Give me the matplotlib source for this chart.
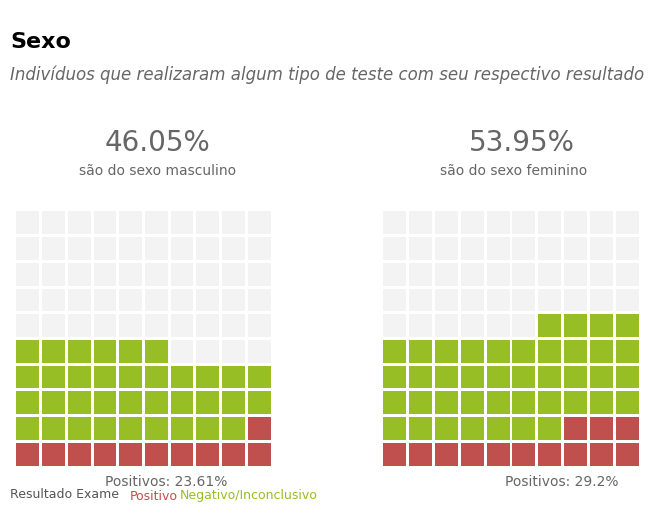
import matplotlib
matplotlib.use("Agg")
import matplotlib.pyplot as plt
from matplotlib.patches import Rectangle

# ---- data ----
categories = ["masculino", "feminino"]
pct_sexo = [46.05, 53.95]
pct_positivos = [23.61, 29.2]
cells_positivo = [11, 13]
cells_negativo = [35, 41]
legend_labels = ["Positivo", "Negativo/Inconclusivo"]

RED = "#C0504D"
GREEN = "#97BE25"
EMPTY = "#F3F3F3"
GREY_TXT = "#666666"

W, H = 654, 530
fig = plt.figure(figsize=(W / 100, H / 100), dpi=100)
fig.patch.set_facecolor("white")


def px(x, y):
    return x / W, 1 - y / H


def ftext(x, y, s, **kw):
    fx, fy = px(x, y)
    fig.text(fx, fy, s, **kw)


ftext(10, 42, "Sexo", fontsize=16, fontweight="bold", color="black", va="center", ha="left")
ftext(10, 75, "Indivíduos que realizaram algum tipo de teste com seu respectivo resultado",
      fontsize=12, style="italic", color=GREY_TXT, va="center", ha="left")

panels = [(15, 272), (382, 640)]
pct_x = [157, 522]
sub_x = [158, 514]
pos_label_x = [166, 562]
top_px, bot_px = 210, 467

for i, cat in enumerate(categories):
    x0, x1 = panels[i]
    ftext(pct_x[i], 143, f"{pct_sexo[i]:.2f}%", fontsize=20, color=GREY_TXT, ha="center", va="center")
    ftext(sub_x[i], 171, f"são do sexo {cat}", fontsize=10, color=GREY_TXT, ha="center", va="center")
    ftext(pos_label_x[i], 482, f"Positivos: {pct_positivos[i]}%", fontsize=10,
          color=GREY_TXT, ha="center", va="center")

    ax = fig.add_axes([x0 / W, 1 - bot_px / H, (x1 - x0) / W, (bot_px - top_px) / H])
    ax.set_xlim(0, 10)
    ax.set_ylim(0, 10)
    ax.axis("off")

    # snake fill order from bottom row
    order = []
    for r in range(10):
        cols = range(10) if r % 2 == 0 else range(9, -1, -1)
        for c in cols:
            order.append((r, c))
    colors = {}
    k = 0
    for _ in range(cells_positivo[i]):
        colors[order[k]] = RED
        k += 1
    for _ in range(cells_negativo[i]):
        colors[order[k]] = GREEN
        k += 1
    s = 0.89
    for r in range(10):
        for c in range(10):
            col = colors.get((r, c), EMPTY)
            ax.add_patch(Rectangle((c + (1 - s) / 2, r + (1 - s) / 2), s, s,
                                   facecolor=col, edgecolor="none"))

ftext(10, 494, "Resultado Exame", fontsize=9, color="#555555", ha="left", va="center")
ftext(130, 496, legend_labels[0], fontsize=9, color=RED, ha="left", va="center")
ftext(180, 496, legend_labels[1], fontsize=9, color=GREEN, ha="left", va="center")

fig.savefig("out.png", dpi=100, facecolor="white")
